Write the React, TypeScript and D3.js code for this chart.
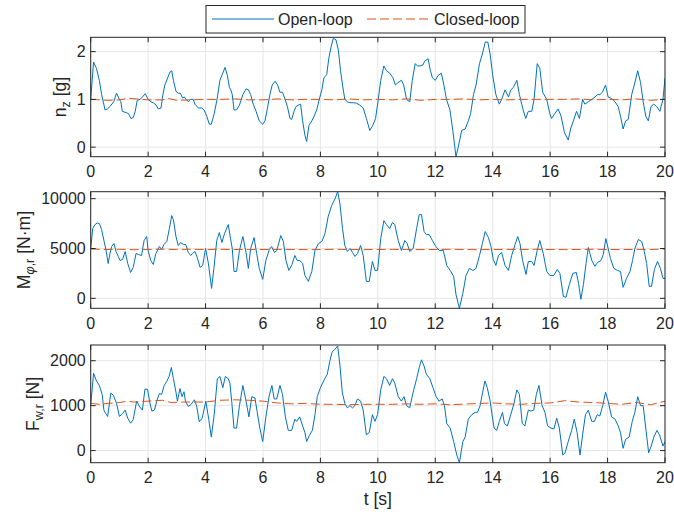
import React from "react";
import * as d3 from "d3";

// Vertical load factor n_z [g] — open-loop response (t [s], value)
const nzOpen: [number, number][] = [
  [0, 1.0], [0.1, 1.78], [0.2, 1.65], [0.3, 1.4], [0.38, 1.1], [0.5, 0.78], [0.58, 0.8], [0.67, 0.85],
  [0.8, 0.95], [0.9, 1.13], [1.0, 1.0], [1.05, 0.95], [1.1, 0.75], [1.25, 0.72], [1.32, 0.7], [1.4, 0.6],
  [1.48, 0.62], [1.55, 0.75], [1.62, 0.98], [1.72, 1.0], [1.8, 1.05], [1.9, 1.12], [2.0, 1.0], [2.1, 0.95],
  [2.2, 0.92], [2.28, 0.88], [2.35, 0.8], [2.45, 0.82], [2.5, 1.05], [2.58, 1.3], [2.68, 1.45], [2.76, 1.57],
  [2.82, 1.6], [2.88, 1.4], [2.97, 1.17], [3.05, 1.13], [3.12, 1.13], [3.2, 1.03], [3.26, 1.05], [3.32, 1.0],
  [3.4, 0.95], [3.48, 1.0], [3.57, 1.0], [3.63, 0.9], [3.75, 0.82], [3.87, 0.82], [3.95, 0.78], [4.04, 0.65],
  [4.13, 0.48], [4.2, 0.48], [4.3, 0.7], [4.4, 1.0], [4.5, 1.4], [4.6, 1.55], [4.68, 1.67], [4.76, 1.5],
  [4.83, 1.25], [4.88, 1.2], [4.93, 1.1], [4.99, 0.78], [5.08, 0.78], [5.18, 0.88], [5.3, 1.1], [5.41, 1.22],
  [5.49, 1.2], [5.57, 1.1], [5.66, 0.9], [5.76, 0.75], [5.87, 0.55], [5.99, 0.48], [6.07, 0.55], [6.15, 0.8],
  [6.24, 1.1], [6.32, 1.3], [6.42, 1.38], [6.51, 1.3], [6.59, 1.15], [6.68, 1.15], [6.77, 1.0], [6.85, 0.85],
  [6.94, 0.6], [7.0, 0.58], [7.08, 0.75], [7.15, 0.85], [7.23, 0.88], [7.31, 0.9], [7.38, 0.55], [7.46, 0.25],
  [7.52, 0.12], [7.6, 0.45], [7.7, 0.55], [7.78, 0.65], [7.87, 0.78], [7.96, 1.0], [8.05, 1.2], [8.12, 1.45],
  [8.22, 1.52], [8.29, 1.85], [8.37, 2.1], [8.45, 2.28], [8.54, 2.25], [8.62, 2.05], [8.7, 1.6], [8.77, 1.3],
  [8.85, 1.0], [8.94, 0.95], [9.03, 0.93], [9.14, 0.93], [9.26, 0.92], [9.37, 0.88], [9.49, 0.82], [9.6, 0.6],
  [9.72, 0.35], [9.82, 0.45], [9.92, 0.6], [10.01, 0.98], [10.1, 1.4], [10.21, 1.7], [10.3, 1.6], [10.41, 1.55],
  [10.53, 1.45], [10.61, 1.3], [10.7, 1.35], [10.82, 1.4], [10.9, 1.3], [11.0, 1.0], [11.11, 0.95], [11.2, 1.4],
  [11.3, 1.75], [11.38, 1.7], [11.46, 1.7], [11.57, 1.72], [11.63, 1.8], [11.75, 1.85], [11.83, 1.6], [11.9, 1.45],
  [12.0, 1.4], [12.1, 1.5], [12.21, 1.55], [12.3, 1.3], [12.39, 1.0], [12.51, 0.78], [12.61, 0.35], [12.72, -0.2],
  [12.8, 0.0], [12.92, 0.35], [13.04, 0.38], [13.15, 0.55], [13.23, 0.7], [13.33, 1.1], [13.42, 1.3], [13.54, 1.75],
  [13.64, 1.95], [13.74, 2.2], [13.83, 2.2], [13.91, 1.95], [14.0, 1.5], [14.11, 1.1], [14.23, 0.9], [14.31, 1.0],
  [14.43, 1.2], [14.55, 1.05], [14.63, 1.2], [14.72, 1.25], [14.84, 1.4], [14.93, 1.1], [15.05, 0.8], [15.15, 0.6],
  [15.24, 0.75], [15.36, 0.75], [15.44, 1.0], [15.55, 1.75], [15.64, 1.65], [15.74, 1.15], [15.88, 1.0], [15.99, 0.7],
  [16.05, 0.6], [16.16, 0.7], [16.28, 0.8], [16.38, 0.65], [16.5, 0.3], [16.63, 0.15], [16.72, 0.4], [16.81, 0.55],
  [16.92, 0.75], [17.02, 0.6], [17.13, 1.0], [17.21, 0.9], [17.33, 0.95], [17.45, 1.0], [17.56, 1.05], [17.64, 1.1],
  [17.73, 1.1], [17.82, 1.15], [17.93, 1.3], [18.02, 1.05], [18.14, 1.02], [18.26, 0.95], [18.37, 0.85], [18.45, 0.65],
  [18.54, 0.38], [18.63, 0.55], [18.72, 0.58], [18.84, 1.1], [18.93, 1.3], [19.05, 1.6], [19.15, 1.35], [19.24, 0.95],
  [19.33, 0.65], [19.42, 0.55], [19.51, 0.85], [19.61, 0.9], [19.71, 0.85], [19.82, 0.75], [19.93, 1.0], [20.0, 1.45],
];

// n_z — closed-loop response
const nzClosed: [number, number][] = [
  [0, 1.0], [0.3, 0.99], [0.6, 0.98], [1.0, 0.99], [1.3, 1.02], [1.6, 1.01], [2.0, 0.99], [2.5, 0.99],
  [2.7, 1.02], [3.0, 0.98], [3.5, 0.99], [4.0, 1.0], [4.5, 1.0], [5.0, 1.01], [5.5, 0.99], [6.0, 0.99],
  [6.5, 1.01], [7.0, 0.99], [7.5, 1.0], [8.0, 1.0], [8.5, 0.99], [9.0, 1.01], [9.5, 0.99], [10.0, 1.0],
  [10.5, 0.99], [11.0, 1.01], [11.5, 0.98], [12.0, 1.0], [12.5, 1.0], [13.0, 1.01], [13.5, 0.99], [14.0, 1.0],
  [14.5, 0.99], [15.0, 1.0], [15.5, 1.0], [16.0, 1.0], [16.5, 1.0], [17.0, 1.01], [17.5, 0.99], [18.0, 1.0],
  [18.5, 0.99], [19.0, 1.01], [19.5, 0.98], [20.0, 1.0],
];

// Roll moment M_phi,r [N·m] — open-loop response
const mOpen: [number, number][] = [
  [0, 5000], [0.07, 7000], [0.15, 7400], [0.23, 7550], [0.3, 7500], [0.38, 6900], [0.46, 5800], [0.53, 4900],
  [0.61, 3500], [0.67, 4500], [0.73, 5200], [0.81, 5500], [0.88, 4700], [0.96, 4200], [1.02, 3800], [1.11, 3900],
  [1.2, 4700], [1.29, 3500], [1.39, 2600], [1.48, 3100], [1.58, 4500], [1.66, 4400], [1.77, 4300], [1.86, 5800],
  [1.95, 6200], [2.0, 4800], [2.09, 3800], [2.18, 3400], [2.27, 4500], [2.39, 5200], [2.47, 4900], [2.55, 5400],
  [2.65, 5700], [2.74, 7000], [2.82, 8300], [2.88, 7900], [2.97, 6200], [3.05, 5300], [3.13, 5600], [3.23, 5400],
  [3.31, 5400], [3.4, 4600], [3.48, 4300], [3.55, 4500], [3.63, 4700], [3.71, 4100], [3.81, 3100], [3.9, 3300],
  [4.0, 5000], [4.1, 3500], [4.21, 1000], [4.29, 3000], [4.39, 5800], [4.48, 6600], [4.57, 5600], [4.66, 6500],
  [4.79, 7400], [4.87, 6000], [4.93, 5000], [4.99, 2700], [5.08, 2700], [5.18, 4800], [5.3, 6200], [5.41, 4600],
  [5.49, 3000], [5.57, 5000], [5.69, 6100], [5.78, 4500], [5.87, 3000], [5.99, 1900], [6.1, 3800], [6.22, 4900],
  [6.3, 5200], [6.4, 4600], [6.48, 4800], [6.62, 6300], [6.71, 5700], [6.8, 3800], [6.9, 2800], [7.01, 3400],
  [7.11, 4300], [7.19, 3800], [7.28, 3800], [7.38, 3500], [7.46, 2300], [7.58, 1700], [7.7, 2700], [7.81, 4800],
  [7.93, 5500], [8.05, 5700], [8.16, 6500], [8.27, 8200], [8.39, 9300], [8.51, 10000], [8.6, 10700], [8.68, 9500],
  [8.77, 7000], [8.85, 5300], [8.94, 4700], [9.03, 5000], [9.12, 4600], [9.2, 4200], [9.29, 4500], [9.4, 5300],
  [9.49, 4300], [9.6, 1700], [9.7, 1700], [9.81, 3700], [9.9, 2800], [9.99, 2800], [10.1, 6000], [10.21, 7800],
  [10.3, 7400], [10.41, 7000], [10.51, 7600], [10.59, 7400], [10.71, 5800], [10.82, 4800], [10.94, 5800], [11.02, 5500],
  [11.11, 4700], [11.23, 5000], [11.35, 7000], [11.44, 8400], [11.52, 8400], [11.61, 6700], [11.69, 6400], [11.79, 6400],
  [11.9, 5800], [12.02, 5200], [12.14, 4800], [12.28, 4800], [12.4, 3300], [12.52, 2800], [12.64, 2200], [12.72, 400],
  [12.84, -1000], [12.96, 500], [13.07, 2300], [13.19, 3000], [13.31, 2800], [13.42, 3000], [13.54, 4300], [13.64, 5500],
  [13.74, 6700], [13.85, 6100], [13.94, 5200], [14.02, 3900], [14.11, 3300], [14.2, 4300], [14.31, 4600], [14.43, 3300],
  [14.55, 2800], [14.66, 4300], [14.78, 5400], [14.87, 6200], [14.95, 5500], [15.04, 3800], [15.16, 2400], [15.24, 3700],
  [15.36, 3700], [15.44, 3300], [15.55, 4800], [15.64, 5800], [15.76, 4500], [15.88, 2700], [15.99, 2300], [16.13, 2300],
  [16.25, 2900], [16.34, 2500], [16.46, 200], [16.55, 100], [16.67, 1400], [16.79, 2500], [16.91, 2600], [16.99, 1500],
  [17.07, -100], [17.16, 1400], [17.25, 3500], [17.33, 5100], [17.45, 3800], [17.56, 3200], [17.65, 3600], [17.77, 3800],
  [17.85, 4400], [17.94, 6000], [18.02, 5000], [18.1, 4000], [18.22, 3000], [18.34, 2800], [18.45, 2700], [18.54, 1100],
  [18.66, 2000], [18.78, 2700], [18.87, 3800], [18.95, 5000], [19.07, 5900], [19.19, 5700], [19.28, 4700], [19.36, 3500],
  [19.45, 1200], [19.53, 1200], [19.63, 2900], [19.74, 3700], [19.84, 3000], [19.93, 2000], [20.0, 2000],
];

// M_phi,r — closed-loop response
const mClosed: [number, number][] = [
  [0, 4950], [0.5, 4900], [1.0, 4920], [1.5, 4880], [2.0, 4900], [2.5, 4930], [3.0, 4900], [3.5, 4920],
  [4.0, 4900], [4.5, 4920], [5.0, 4900], [5.5, 4890], [6.0, 4900], [6.5, 4910], [7.0, 4900], [7.5, 4880],
  [8.0, 4900], [8.5, 4920], [9.0, 4900], [9.5, 4890], [10.0, 4900], [10.5, 4910], [11.0, 4900], [11.5, 4890],
  [12.0, 4900], [12.5, 4920], [13.0, 4900], [13.5, 4880], [14.0, 4900], [14.5, 4910], [15.0, 4900], [15.5, 4920],
  [16.0, 4900], [16.5, 4890], [17.0, 4900], [17.5, 4920], [18.0, 4900], [18.5, 4890], [19.0, 4910], [19.5, 4900],
  [20.0, 4950],
];

// Wheel force F_w,r [N] — open-loop response
const fOpen: [number, number][] = [
  [0, 1000], [0.1, 1720], [0.2, 1550], [0.3, 1450], [0.4, 1250], [0.46, 900], [0.53, 820], [0.59, 760],
  [0.7, 1280], [0.79, 1230], [0.9, 1050], [1.0, 760], [1.11, 820], [1.2, 900], [1.29, 720], [1.39, 610],
  [1.48, 690], [1.6, 1100], [1.69, 990], [1.8, 900], [1.89, 1370], [1.98, 1360], [2.06, 1060], [2.13, 880],
  [2.22, 900], [2.3, 1100], [2.39, 1270], [2.47, 1250], [2.56, 1450], [2.65, 1540], [2.73, 1650], [2.81, 1850],
  [2.88, 1600], [2.97, 1300], [3.02, 1100], [3.11, 1380], [3.18, 1200], [3.25, 1310], [3.3, 1100], [3.4, 980],
  [3.5, 1030], [3.61, 1130], [3.69, 990], [3.78, 640], [3.88, 720], [4.01, 1100], [4.11, 700], [4.2, 300],
  [4.3, 800], [4.41, 1600], [4.5, 1650], [4.6, 1400], [4.69, 1650], [4.79, 1600], [4.85, 1500], [4.91, 1100],
  [4.99, 500], [5.08, 500], [5.18, 1000], [5.3, 1450], [5.41, 1100], [5.51, 750], [5.61, 1200], [5.72, 1170],
  [5.8, 850], [5.89, 500], [5.99, 200], [6.1, 750], [6.21, 1200], [6.31, 1450], [6.39, 1150], [6.48, 1150],
  [6.59, 1450], [6.68, 1250], [6.78, 750], [6.88, 450], [7.0, 450], [7.11, 700], [7.17, 650], [7.28, 750],
  [7.38, 550], [7.46, 400], [7.52, 200], [7.61, 330], [7.72, 450], [7.81, 800], [7.89, 1200], [8.0, 1400],
  [8.15, 1600], [8.24, 1700], [8.33, 2000], [8.41, 2200], [8.5, 2250], [8.6, 2330], [8.68, 1900], [8.76, 1300],
  [8.85, 1050], [8.94, 950], [9.03, 1000], [9.12, 950], [9.2, 1000], [9.29, 1150], [9.4, 1100], [9.49, 900],
  [9.6, 350], [9.7, 400], [9.81, 800], [9.9, 650], [9.99, 800], [10.1, 1350], [10.21, 1650], [10.3, 1600],
  [10.41, 1450], [10.51, 1600], [10.59, 1500], [10.71, 1200], [10.82, 1100], [10.91, 1200], [11.0, 1000], [11.11, 950],
  [11.23, 1300], [11.35, 1600], [11.44, 1850], [11.52, 2020], [11.6, 1900], [11.69, 1700], [11.81, 1600], [11.92, 1400],
  [12.03, 1200], [12.13, 1100], [12.24, 1150], [12.32, 1000], [12.4, 600], [12.52, 500], [12.64, 200], [12.75, -100],
  [12.84, -270], [12.96, 200], [13.04, 300], [13.15, 700], [13.27, 800], [13.39, 850], [13.47, 850], [13.56, 1000],
  [13.65, 1300], [13.73, 1550], [13.81, 1400], [13.91, 1100], [14.0, 700], [14.05, 500], [14.14, 450], [14.23, 650],
  [14.34, 850], [14.41, 600], [14.51, 550], [14.63, 800], [14.74, 1050], [14.84, 1350], [14.93, 1250], [15.03, 600],
  [15.12, 550], [15.24, 900], [15.33, 880], [15.43, 900], [15.52, 1250], [15.61, 1450], [15.72, 1000], [15.82, 850],
  [15.91, 550], [16.03, 500], [16.13, 480], [16.23, 720], [16.32, 500], [16.44, -100], [16.52, -50], [16.63, 200],
  [16.75, 450], [16.84, 700], [16.94, 400], [17.04, -100], [17.13, 350], [17.23, 800], [17.33, 900], [17.45, 650],
  [17.54, 650], [17.64, 800], [17.73, 770], [17.83, 1000], [17.93, 1300], [18.02, 1100], [18.14, 750], [18.26, 700],
  [18.37, 550], [18.45, 400], [18.54, 50], [18.63, 250], [18.75, 300], [18.86, 650], [18.95, 850], [19.05, 1200],
  [19.15, 1000], [19.24, 1000], [19.33, 500], [19.43, -50], [19.52, 100], [19.61, 300], [19.72, 450], [19.81, 350],
  [19.93, 100], [20.0, 200],
];

// F_w,r — closed-loop response
const fClosed: [number, number][] = [
  [0, 1050], [0.3, 1030], [0.6, 1050], [1.0, 1070], [1.3, 1100], [1.5, 1080], [2.0, 1100], [2.5, 1120],
  [2.8, 1070], [3.2, 1080], [3.6, 1080], [4.0, 1080], [4.5, 1120], [5.0, 1130], [5.5, 1120], [6.0, 1100],
  [6.5, 1060], [7.0, 1040], [7.5, 1050], [8.0, 1030], [8.5, 1030], [9.0, 1020], [9.5, 1030], [10.0, 1030],
  [10.5, 1030], [11.0, 1040], [11.5, 1030], [12.0, 1040], [12.5, 1020], [13.2, 1040], [14.0, 1060], [14.5, 1040],
  [15.0, 1030], [15.5, 1050], [16.0, 1060], [16.5, 1110], [17.0, 1080], [17.5, 1070], [18.0, 1050], [18.5, 1030],
  [19.0, 1070], [19.5, 1020], [20.0, 1100],
];

const xTicks = [0, 2, 4, 6, 8, 10, 12, 14, 16, 18, 20];
const nzTicks = [0, 1, 2];
const mTicks = [0, 5000, 10000];
const fTicks = [0, 1000, 2000];

const BLUE = "#0072BD";
const ORANGE = "#D95319";
const AXIS = "#262626";
const GRID = "#e6e6e6";
const FONT = "'Liberation Sans', Arial, Helvetica, sans-serif";
const TICK_FS = 16;
const LABEL_FS = 17.6;

const W = 674;
const H = 512;
const LEFT = 90.7;
const RIGHT = 665;

type PanelDef = {
  top: number;
  bottom: number;
  domain: [number, number];
  ticks: number[];
  open: [number, number][];
  closed: [number, number][];
  label: React.ReactNode;
  labelX: number;
};

const x = d3.scaleLinear().domain([0, 20]).range([LEFT, RIGHT]);

function Panel({ p, id }: { p: PanelDef; id: string }) {
  const y = d3.scaleLinear().domain(p.domain).range([p.bottom, p.top]);
  const line = d3
    .line<[number, number]>()
    .x((d) => x(d[0]))
    .y((d) => y(d[1]));
  const tick = 5;
  const mid = (p.top + p.bottom) / 2;
  return (
    <g>
      <defs>
        <clipPath id={id}>
          <rect x={LEFT} y={p.top} width={RIGHT - LEFT} height={p.bottom - p.top} />
        </clipPath>
      </defs>
      <rect x={LEFT} y={p.top} width={RIGHT - LEFT} height={p.bottom - p.top} fill="#fff" />
      {xTicks.map((t) => (
        <line key={"gx" + t} x1={x(t)} x2={x(t)} y1={p.top} y2={p.bottom} stroke={GRID} strokeWidth={1} />
      ))}
      {p.ticks.map((t) => (
        <line key={"gy" + t} x1={LEFT} x2={RIGHT} y1={y(t)} y2={y(t)} stroke={GRID} strokeWidth={1} />
      ))}
      <g clipPath={`url(#${id})`}>
        <path d={line(p.open) || ""} fill="none" stroke={BLUE} strokeWidth={1} strokeLinejoin="round" />
        <path d={line(p.closed) || ""} fill="none" stroke={ORANGE} strokeWidth={1} strokeDasharray="9,4" />
      </g>
      <rect x={LEFT} y={p.top} width={RIGHT - LEFT} height={p.bottom - p.top} fill="none" stroke={AXIS} strokeWidth={1} />
      {xTicks.map((t) => (
        <g key={"tx" + t}>
          <line x1={x(t)} x2={x(t)} y1={p.bottom} y2={p.bottom - tick} stroke={AXIS} />
          <line x1={x(t)} x2={x(t)} y1={p.top} y2={p.top + tick} stroke={AXIS} />
          <text x={x(t)} y={p.bottom + 20.5} textAnchor="middle" fontSize={TICK_FS} fill={AXIS} fontFamily={FONT}>
            {t}
          </text>
        </g>
      ))}
      {p.ticks.map((t) => (
        <g key={"ty" + t}>
          <line x1={LEFT} x2={LEFT + tick} y1={y(t)} y2={y(t)} stroke={AXIS} />
          <line x1={RIGHT} x2={RIGHT - tick} y1={y(t)} y2={y(t)} stroke={AXIS} />
          <text x={LEFT - 5} y={y(t) + 5.5} textAnchor="end" fontSize={TICK_FS} fill={AXIS} fontFamily={FONT}>
            {t}
          </text>
        </g>
      ))}
      <text
        transform={`translate(${p.labelX},${mid}) rotate(-90)`}
        textAnchor="middle"
        fontSize={LABEL_FS}
        fill={AXIS}
        fontFamily={FONT}
      >
        {p.label}
      </text>
    </g>
  );
}

const panels: PanelDef[] = [
  {
    top: 37.3,
    bottom: 156.7,
    domain: [-0.2, 2.3],
    ticks: nzTicks,
    open: nzOpen,
    closed: nzClosed,
    labelX: 66,
    label: (
      <>
        <tspan>n</tspan>
        <tspan fontSize={12.5} dy={4}>z</tspan>
        <tspan dy={-4}> [g]</tspan>
      </>
    ),
  },
  {
    top: 191.7,
    bottom: 308.3,
    domain: [-1000, 10700],
    ticks: mTicks,
    open: mOpen,
    closed: mClosed,
    labelX: 30,
    label: (
      <>
        <tspan>M</tspan>
        <tspan fontSize={12.5} dy={4}>
          <tspan fontStyle="italic">φ</tspan>,r
        </tspan>
        <tspan dy={-4}> [N·m]</tspan>
      </>
    ),
  },
  {
    top: 345,
    bottom: 462.7,
    domain: [-270, 2350],
    ticks: fTicks,
    open: fOpen,
    closed: fClosed,
    labelX: 39,
    label: (
      <>
        <tspan>F</tspan>
        <tspan fontSize={12.5} dy={4}>w,r</tspan>
        <tspan dy={-4}> [N]</tspan>
      </>
    ),
  },
];

export default function App() {
  return (
    <svg
      width={W}
      height={H}
      viewBox={`0 0 ${W} ${H}`}
      style={{ position: "absolute", left: 0, top: 0, background: "#fff" }}
    >
      <rect width={W} height={H} fill="#fff" />
      {panels.map((p, i) => (
        <Panel key={i} p={p} id={`clip-${i}`} />
      ))}
      <text x={(LEFT + RIGHT) / 2} y={505} textAnchor="middle" fontSize={LABEL_FS} fill={AXIS} fontFamily={FONT}>
        t [s]
      </text>
      {/* legend */}
      <g fontFamily={FONT} fontSize={TICK_FS} fill={AXIS}>
        <rect x={206} y={5.5} width={319} height={27.5} fill="#fff" stroke={AXIS} strokeWidth={1} />
        <line x1={212} x2={274} y1={19} y2={19} stroke={BLUE} strokeWidth={1} />
        <text x={278} y={25}>Open-loop</text>
        <line x1={367} x2={429} y1={19} y2={19} stroke={ORANGE} strokeWidth={1} strokeDasharray="9,4" />
        <text x={434} y={25}>Closed-loop</text>
      </g>
    </svg>
  );
}
